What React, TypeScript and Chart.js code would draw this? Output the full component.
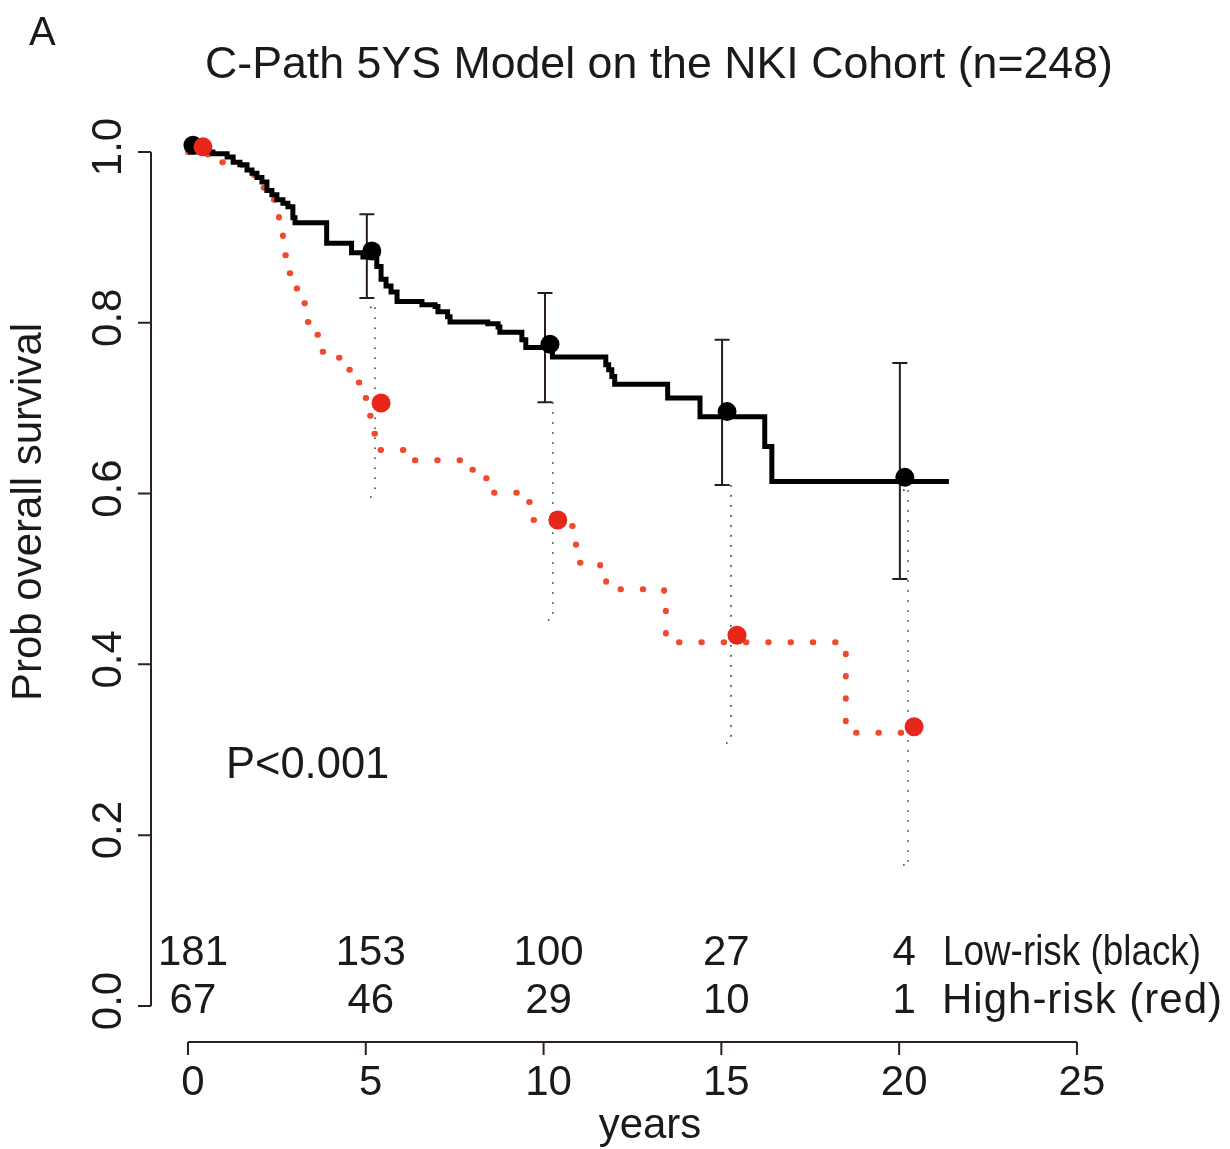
import React, { useEffect, useRef } from "react";
import { Chart, registerables } from "chart.js";

Chart.register(...registerables);

// ---------- data ----------
const title = "C-Path 5YS Model on the NKI Cohort (n=248)";
const panelLabel = "A";
const yAxisTitle = "Prob overall survival";
const xAxisTitle = "years";
const pValueText = "P<0.001";

const xTicks = [0, 5, 10, 15, 20, 25];
const yTicks = [0, 0.2, 0.4, 0.6, 0.8, 1.0];

// Low-risk (black) Kaplan-Meier step curve: event times and survival after each step
const lowTimes = [0, 0.7, 1.1, 1.27, 1.46, 1.66, 1.8, 1.94, 2.08, 2.22, 2.36, 2.5, 2.67, 2.81, 2.95, 3.01, 3.9, 4.6, 4.92, 5.31, 5.43, 5.57, 5.71, 5.88, 6.58, 6.95, 7.03, 7.3, 7.37, 8.43, 8.72, 8.77, 9.39, 9.5, 10.25, 11.75, 11.83, 11.92, 12.0, 13.49, 14.4, 16.22, 16.42, 21.4];
const lowSurv = [1.0, 0.998, 0.994, 0.988, 0.985, 0.979, 0.975, 0.97, 0.965, 0.955, 0.95, 0.944, 0.94, 0.936, 0.923, 0.917, 0.893, 0.882, 0.877, 0.866, 0.851, 0.843, 0.836, 0.825, 0.821, 0.819, 0.813, 0.807, 0.801, 0.799, 0.795, 0.789, 0.78, 0.771, 0.76, 0.751, 0.745, 0.737, 0.728, 0.712, 0.69, 0.655, 0.614, 0.614];

// High-risk (red) Kaplan-Meier step curve
const highTimes = [0, 0.48, 0.96, 1.52, 1.74, 2.08, 2.31, 2.48, 2.56, 2.67, 2.78, 2.98, 3.21, 3.29, 3.57, 3.74, 4.22, 4.47, 4.72, 4.89, 5.01, 5.15, 5.26, 6.24, 7.73, 8.32, 8.61, 9.56, 9.7, 10.74, 10.91, 11.02, 11.59, 11.76, 12.15, 12.85, 13.39, 13.44, 18.5, 20.3];
const highSurv = [1.0, 0.997, 0.988, 0.984, 0.973, 0.958, 0.944, 0.926, 0.903, 0.879, 0.858, 0.84, 0.823, 0.801, 0.786, 0.766, 0.759, 0.745, 0.73, 0.712, 0.691, 0.67, 0.651, 0.639, 0.628, 0.618, 0.601, 0.59, 0.569, 0.562, 0.54, 0.519, 0.513, 0.495, 0.488, 0.487, 0.484, 0.426, 0.32, 0.32];

// Large markers at the check-points
const lowDotTimes = [0.14, 5.17, 10.18, 15.16, 20.16];
const lowDotSurv = [1.008, 0.884, 0.775, 0.696, 0.619];
const highDotTimes = [0.42, 5.43, 10.4, 15.44, 20.42];
const highDotSurv = [1.006, 0.706, 0.569, 0.434, 0.327];

// Confidence bars
const lowBarTimes = [5.03, 10.04, 15.02, 20.02];
const lowBarUpper = [0.927, 0.835, 0.78, 0.753];
const lowBarLower = [0.829, 0.707, 0.61, 0.5];
const highBarTimes = [5.26, 10.26, 15.27, 20.25];
const highBarUpper = [0.818, 0.707, 0.61, 0.604];
const highBarLower = [0.596, 0.452, 0.308, 0.165];

// Numbers at risk
const riskTimes = [0, 5, 10, 15, 20];
const lowAtRisk = [181, 153, 100, 27, 4];
const highAtRisk = [67, 46, 29, 10, 1];
const lowRiskLabel = "Low-risk (black)";
const highRiskLabel = "High-risk (red)";

// ---------- styling ----------
const FONT = '"Liberation Sans", Arial, Helvetica, sans-serif';
const AXIS_COLOR = "#2e2020";
const TEXT_COLOR = "#1a1a1a";
const RED_LINE = "#ef4a2e";
const RED_DOT = "#e8261c";

const W = 1230;
const H = 1149;

const toPoints = (xs: number[], ys: number[]) => xs.map((x, i) => ({ x, y: ys[i] }));

const rPlugin = {
  id: "rStyle",
  beforeDatasetsDraw(chart: any) {
    const { ctx, scales } = chart;
    const xs = scales.x;
    const ys = scales.y;
    ctx.save();
    // black solid confidence bars
    ctx.strokeStyle = "#2a1c1c";
    ctx.lineWidth = 2;
    ctx.setLineDash([]);
    lowBarTimes.forEach((t, i) => {
      const px = xs.getPixelForValue(t);
      const top = ys.getPixelForValue(lowBarUpper[i]);
      const bot = ys.getPixelForValue(lowBarLower[i]);
      ctx.beginPath();
      ctx.moveTo(px, top);
      ctx.lineTo(px, bot);
      ctx.moveTo(px - 7.5, top);
      ctx.lineTo(px + 7.5, top);
      ctx.moveTo(px - 7.5, bot);
      ctx.lineTo(px + 7.5, bot);
      ctx.stroke();
    });
    // red-group dotted confidence bars
    ctx.strokeStyle = "#3c3c3c";
    ctx.lineWidth = 1.6;
    ctx.setLineDash([1.6, 8.4]);
    highBarTimes.forEach((t, i) => {
      const px = xs.getPixelForValue(t);
      const top = ys.getPixelForValue(highBarUpper[i]);
      const bot = ys.getPixelForValue(highBarLower[i]);
      ctx.beginPath();
      ctx.moveTo(px, top);
      ctx.lineTo(px, bot);
      ctx.stroke();
      ctx.beginPath();
      ctx.moveTo(px - 5, top);
      ctx.lineTo(px + 5, top);
      ctx.moveTo(px - 5, bot);
      ctx.lineTo(px + 5, bot);
      ctx.stroke();
    });
    ctx.restore();
  },
  afterDraw(chart: any) {
    const { ctx, scales, chartArea } = chart;
    const xs = scales.x;
    const ys = scales.y;
    ctx.save();
    ctx.setLineDash([]);
    ctx.strokeStyle = AXIS_COLOR;
    ctx.lineWidth = 2;
    ctx.fillStyle = TEXT_COLOR;

    // y axis (R style, detached)
    const ax = Math.round(chartArea.left);
    const y0 = ys.getPixelForValue(yTicks[0]);
    const y1 = ys.getPixelForValue(yTicks[yTicks.length - 1]);
    ctx.beginPath();
    ctx.moveTo(ax, y0);
    ctx.lineTo(ax, y1);
    yTicks.forEach((v) => {
      const py = ys.getPixelForValue(v);
      ctx.moveTo(ax, py);
      ctx.lineTo(ax - 13, py);
    });
    ctx.stroke();
    ctx.font = `42px ${FONT}`;
    ctx.textAlign = "center";
    ctx.textBaseline = "alphabetic";
    yTicks.forEach((v) => {
      const py = ys.getPixelForValue(v);
      ctx.save();
      ctx.translate(121, py - 5);
      ctx.rotate(-Math.PI / 2);
      ctx.fillText(v.toFixed(1), 0, 0);
      ctx.restore();
    });

    // x axis
    const ay = Math.round(chartArea.bottom);
    ctx.beginPath();
    ctx.moveTo(xs.getPixelForValue(xTicks[0]), ay);
    ctx.lineTo(xs.getPixelForValue(xTicks[xTicks.length - 1]), ay);
    xTicks.forEach((t) => {
      const px = xs.getPixelForValue(t);
      ctx.moveTo(px, ay);
      ctx.lineTo(px, ay + 13);
    });
    ctx.stroke();
    xTicks.forEach((t) => {
      ctx.fillText(String(t), xs.getPixelForValue(t) + 5, 1095);
    });

    // risk table
    riskTimes.forEach((t, i) => {
      const px = xs.getPixelForValue(t) + 5;
      ctx.fillText(String(lowAtRisk[i]), px, 965);
      ctx.fillText(String(highAtRisk[i]), px, 1013);
    });
    ctx.textAlign = "left";
    ctx.fillText(lowRiskLabel, 943, 965, 258);
    ctx.save();
    (ctx as any).letterSpacing = "1px";
    ctx.fillText(highRiskLabel, 942, 1013);
    ctx.restore();

    // p-value
    ctx.font = `43.5px ${FONT}`;
    ctx.fillText(pValueText, 226, 778);

    // axis titles
    ctx.font = `42px ${FONT}`;
    ctx.textAlign = "center";
    ctx.fillText(xAxisTitle, 650, 1138);
    ctx.save();
    ctx.translate(41, 512);
    ctx.rotate(-Math.PI / 2);
    ctx.fillText(yAxisTitle, 0, 0, 398);
    ctx.restore();

    // title and panel label
    ctx.font = `44.7px ${FONT}`;
    ctx.fillText(title, 659, 78);
    ctx.font = `40px ${FONT}`;
    ctx.textAlign = "left";
    ctx.fillText(panelLabel, 29, 45);
    ctx.restore();
  },
};

export default function App() {
  const canvasRef = useRef<HTMLCanvasElement | null>(null);

  useEffect(() => {
    const canvas = canvasRef.current;
    if (!canvas) return;
    const chart = new Chart(canvas, {
      type: "line",
      data: {
        datasets: [
          {
            label: "High-risk markers",
            data: toPoints(highDotTimes, highDotSurv),
            showLine: false,
            pointRadius: 9.5,
            pointBackgroundColor: RED_DOT,
            pointBorderWidth: 0,
            order: 0,
          },
          {
            label: "Low-risk markers",
            data: toPoints(lowDotTimes, lowDotSurv),
            showLine: false,
            pointRadius: 9.5,
            pointBackgroundColor: "#000000",
            pointBorderWidth: 0,
            order: 1,
          },
          {
            label: "Low-risk (black)",
            data: toPoints(lowTimes, lowSurv),
            stepped: "before",
            borderColor: "#000000",
            borderWidth: 5,
            pointRadius: 0,
            fill: false,
            borderCapStyle: "butt",
            borderJoinStyle: "miter",
            order: 2,
          },
          {
            label: "High-risk (red)",
            data: toPoints(highTimes, highSurv),
            stepped: "before",
            borderColor: RED_LINE,
            borderWidth: 6,
            borderDash: [0.5, 21.8],
            borderCapStyle: "round",
            borderJoinStyle: "round",
            pointRadius: 0,
            fill: false,
            order: 3,
          },
        ],
      },
      options: {
        responsive: false,
        animation: false,
        devicePixelRatio: 1,
        events: [],
        layout: { padding: { left: 151, right: 117.5, top: 118, bottom: 107 } },
        scales: {
          x: { type: "linear", min: -1.04, max: 26.0, display: false },
          y: { type: "linear", min: -0.0422, max: 1.0398, display: false },
        },
        plugins: {
          legend: { display: false },
          tooltip: { enabled: false },
        },
      },
      plugins: [rPlugin],
    });
    return () => chart.destroy();
  }, []);

  return (
    <div style={{ position: "absolute", left: 0, top: 0, width: W, height: H, background: "#ffffff" }}>
      <canvas ref={canvasRef} width={W} height={H} style={{ display: "block" }} />
    </div>
  );
}
